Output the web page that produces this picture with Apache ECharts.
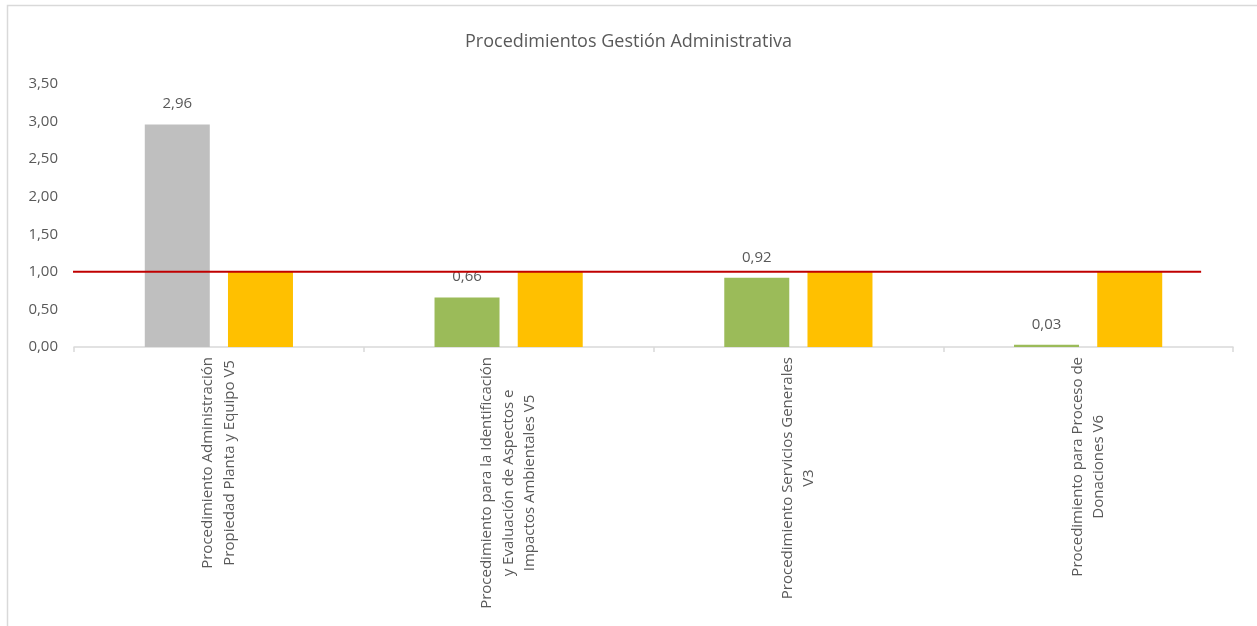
<!DOCTYPE html>
<html>
<head>
<meta charset="utf-8">
<script src="https://cdn.jsdelivr.net/npm/echarts@6/dist/echarts.min.js"></script>
<style>
  html, body { margin: 0; padding: 0; background: #ffffff; }
  #chart { width: 1257px; height: 626px; }
</style>
</head>
<body>
<div id="chart"></div>
<script>
// Procedures and their compliance indicator
const categories = [
  'Procedimiento Administración\nPropiedad Planta y Equipo V5',
  'Procedimiento para la Identificación\ny Evaluación de Aspectos e\nImpactos Ambientales V5',
  'Procedimiento Servicios Generales\nV3',
  'Procedimiento para Proceso de\nDonaciones V6'
];
const resultValues = [2.96, 0.66, 0.92, 0.03];
const targetValues = [1, 1, 1, 1];
const resultColors = ['#BFBFBF', '#9BBB59', '#9BBB59', '#9BBB59'];
// Reference threshold line: x extent (in category units) and level
const thresholdX = [-0.02, 3.89];
const thresholdLevel = 1;
const yTicks = { min: 0, max: 3.5, interval: 0.5 };

const FONT = '"Open Sans", "Noto Sans", sans-serif';
const TEXT = '#595959';
const fmt = v => v.toFixed(2).replace('.', ',');

const chart = echarts.init(document.getElementById('chart'), null, { renderer: 'canvas' });

chart.setOption({
  animation: false,
  backgroundColor: '#ffffff',
  graphic: [{
    type: 'rect',
    shape: { x: 7.5, y: 5.5, width: 1300, height: 700 },
    style: { fill: 'none', stroke: '#D9D9D9', lineWidth: 1.5 },
    silent: true,
    z: -10
  }],
  title: {
    text: 'Procedimientos Gestión Administrativa',
    left: 'center',
    top: 28,
    textStyle: { fontFamily: FONT, fontSize: 18, fontWeight: 'normal', color: TEXT }
  },
  grid: { left: 74, right: 24, top: 84, bottom: 279, containLabel: false },
  xAxis: [{
    type: 'category',
    data: categories,
    axisLine: { lineStyle: { color: '#D9D9D9', width: 1.5 } },
    axisTick: { show: true, length: 5, alignWithLabel: false, lineStyle: { color: '#D9D9D9', width: 1.5 } },
    axisLabel: {
      rotate: 90,
      margin: 10,
      interval: 0,
      color: TEXT,
      fontFamily: FONT,
      fontSize: 15,
      lineHeight: 21.5,
      formatter: v => v.split('\n').map(s => '{c|' + s + '}').join('\n'),
      rich: { c: { align: 'center', color: TEXT, fontFamily: FONT, fontSize: 15, lineHeight: 21.5 } }
    }
  }, {
    type: 'value',
    min: 0,
    max: 4,
    show: false
  }],
  yAxis: {
    type: 'value',
    min: yTicks.min,
    max: yTicks.max,
    interval: yTicks.interval,
    axisLine: { show: false },
    axisTick: { show: false },
    splitLine: { show: false },
    axisLabel: {
      color: TEXT,
      fontFamily: FONT,
      fontSize: 15,
      margin: 16,
      formatter: fmt
    }
  },
  series: [{
    name: 'Resultado',
    type: 'bar',
    xAxisIndex: 0,
    barWidth: 65,
    barGap: '28%',
    data: resultValues.map((v, i) => ({ value: v, itemStyle: { color: resultColors[i] } })),
    label: {
      show: true,
      position: 'top',
      distance: 13,
      color: TEXT,
      fontFamily: FONT,
      fontSize: 15,
      formatter: p => fmt(p.value)
    }
  }, {
    name: 'Meta',
    type: 'bar',
    xAxisIndex: 0,
    barWidth: 65,
    barGap: '28%',
    itemStyle: { color: '#FFC000' },
    data: targetValues
  }, {
    name: 'Umbral',
    type: 'line',
    xAxisIndex: 1,
    clip: false,
    symbol: 'none',
    lineStyle: { color: '#C00000', width: 2 },
    data: thresholdX.map(x => [x, thresholdLevel]),
    z: 5
  }]
});
</script>
</body>
</html>
